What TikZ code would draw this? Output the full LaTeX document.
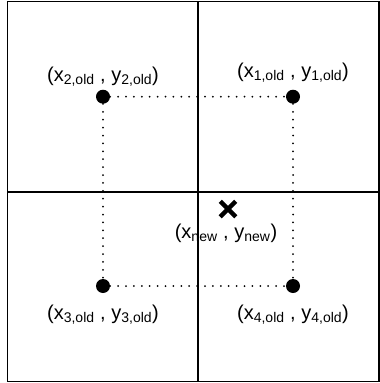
\documentclass[tikz,border=0pt]{standalone}
\usepackage{fontspec}
\setmainfont{Liberation Sans}
\usepackage{tikz}
\usetikzlibrary{positioning,shapes.misc}

\newcommand{\pnt}[2]{(#1\textsubscript{#2} , y\textsubscript{#2})}

\begin{document}
\begin{tikzpicture}[x=1pt, y=-1pt,
  gridline/.style={line width=1.6pt},
  dotpt/.style={circle, fill=black, inner sep=0pt, minimum size=14pt},
  dotline/.style={line width=2pt, dash pattern=on 0pt off 7.9pt, line cap=round},
  lbl/.style={font=\fontsize{20}{24}\selectfont, inner sep=1pt}]
\useasboundingbox (0,0) rectangle (380,383);
% ---------- grid cells ----------
\draw[gridline] (7.5,1.5) rectangle (379,381.5);
\draw[gridline] (198,1.5) -- (198,381.5);
\draw[gridline] (7.5,191.7) -- (379,191.7);
% ---------- old points ----------
\node[dotpt] (d1) at (293,96.7) {};
\node[dotpt] (d2) at (103,96.7) {};
\node[dotpt] (d3) at (103,286) {};
\node[dotpt] (d4) at (293,286) {};
\draw[dotline] (d2) -- (d1);
\draw[dotline] (d1) -- (d4);
\draw[dotline] (d3) -- (d4);
\draw[dotline] (d2) -- (d3);
\node[lbl] (l1) at (293,73) {\pnt{x}{1,old}};
\node[lbl] (l2) at (103,77) {\pnt{x}{2,old}};
\node[lbl] (l3) at (103,315) {\pnt{x}{3,old}};
\node[lbl] (l4) at (293,315) {\pnt{x}{4,old}};
% ---------- new point ----------
\node[cross out, draw, line width=4.5pt, inner sep=0pt, minimum size=11pt] (xn) at (228,209) {};
\node[lbl] (ln) at (226,233) {(x\textsubscript{new} , y\textsubscript{new})};
\end{tikzpicture}
\end{document}
